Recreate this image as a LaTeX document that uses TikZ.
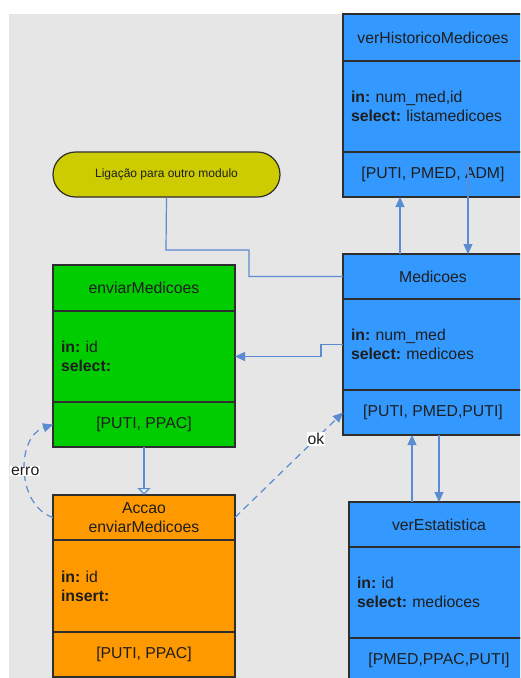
\documentclass[tikz,border=0pt]{standalone}
\usepackage{fontspec}
\setmainfont{Liberation Sans}
\usetikzlibrary{arrows.meta}
\frenchspacing
\definecolor{bg}{HTML}{E6E6E6}
\definecolor{bluef}{HTML}{3399FF}
\definecolor{greenf}{HTML}{00CC00}
\definecolor{orangef}{HTML}{FF9900}
\definecolor{olivef}{HTML}{CCCC00}
\definecolor{lnc}{HTML}{5B8BD1}
\definecolor{bord}{HTML}{2E2E2E}
\definecolor{txt}{HTML}{1E1E1E}
\newcommand{\boxfont}{\fontsize{15.8}{19}\selectfont}
\tikzset{
  part/.style={draw=bord, line width=1.2pt, inner sep=0pt, outer sep=0pt,
    anchor=north west, font=\boxfont, text=txt, align=center},
  wide/.style={minimum width=180pt},
  wider/.style={minimum width=182pt},
  hdr/.style={part, minimum height=#1},
  bodyp/.style={part, align=left, inner xsep=8pt, text width=#1, minimum height=91pt},
  conn/.style={draw=lnc, line width=1.2pt},
  arr/.style={conn, -{Triangle[length=10pt,width=9pt]}},
  dasharr/.style={conn, dash pattern=on 7pt off 5pt, -{Triangle[length=10pt,width=9pt]}},
  lbl/.style={fill=white, inner sep=1pt, font=\boxfont, text=txt},
}
\begin{document}
\begin{tikzpicture}[x=1pt,y=-1pt]
\useasboundingbox (0,0) rectangle (520,678);
\clip (0,0) rectangle (520,678);
\fill[bg] (9,14) rectangle (520,678);

% verHistoricoMedicoes
\node[hdr=47pt, wide, fill=bluef] (vht) at (343,14) {verHistoricoMedicoes};
\node[bodyp=164pt, fill=bluef] (vhb) at (343,61) {\textbf{in:} num\_med,id\\\textbf{select:} listamedicoes};
\node[hdr=45pt, wide, fill=bluef] (vhf) at (343,152) {[PUTI, PMED, ADM]};

% Medicoes
\node[hdr=45pt, wide, fill=bluef] (mdt) at (343,254) {Medicoes};
\node[bodyp=164pt, fill=bluef] (mdb) at (343,299) {\textbf{in:} num\_med\\\textbf{select:} medicoes};
\node[hdr=45pt, wide, fill=bluef] (mdf) at (343,390) {[PUTI, PMED,PUTI]};

% enviarMedicoes
\node[hdr=46pt, wider, fill=greenf] (evt) at (53,265) {enviarMedicoes};
\node[bodyp=166pt, fill=greenf] (evb) at (53,311) {\textbf{in:} id\\\textbf{select:}};
\node[hdr=45pt, wider, fill=greenf] (evf) at (53,402) {[PUTI, PPAC]};

% Accao enviarMedicoes
\node[hdr=45pt, wider, fill=orangef] (act) at (53,495) {Accao\\enviarMedicoes};
\node[bodyp=166pt, fill=orangef, minimum height=92pt] (acb) at (53,540) {\textbf{in:} id\\\textbf{insert:}};
\node[hdr=45pt, wider, fill=orangef] (acf) at (53,632) {[PUTI, PPAC]};

% verEstatistica
\node[hdr=45pt, wide, fill=bluef] (vet) at (349,502) {verEstatistica};
\node[bodyp=164pt, fill=bluef] (veb) at (349,547) {\textbf{in:} id\\\textbf{select:} medioces};
\node[hdr=45pt, wide, fill=bluef] (vef) at (349,638) {[PMED,PPAC,PUTI]};

% Ligacao
\node[draw=bord, line width=1.2pt, fill=olivef, rounded corners=22.5pt,
  minimum width=227pt, minimum height=45pt, inner sep=0pt,
  font=\fontsize{12}{14}\selectfont, text=txt] (lig) at (166.5,174.5) {Ligação para outro modulo};

% connectors
\coordinate (vhdn) at (468,163);
\draw[conn] (lig.south) -- (166,250) -- (249,250) -- (249,276.5) -- (mdt.west);
\draw[arr] (mdt.north -| 400,0) -- (vhf.south -| 400,0);
\draw[arr] (vhdn) -- (mdt.north -| vhdn);
\draw[arr] (mdb.west) -- ++(-22,0) |- (evb.east);
\draw[conn, -{Triangle[open,length=7pt,width=13pt]}] (evf.south) -- (act.north);
\draw[arr] (vet.north -| 412,0) -- (mdf.south -| 412,0);
\draw[arr] (mdf.south -| 439,0) -- (vet.north -| 439,0);
\draw[dasharr] (act.west) .. controls (16,505) and (16,437) .. node[lbl, pos=0.5] {erro} (evf.west);
\draw[dasharr] (act.east) -- node[lbl, pos=0.75] {ok} (mdf.west);
\end{tikzpicture}
\end{document}
